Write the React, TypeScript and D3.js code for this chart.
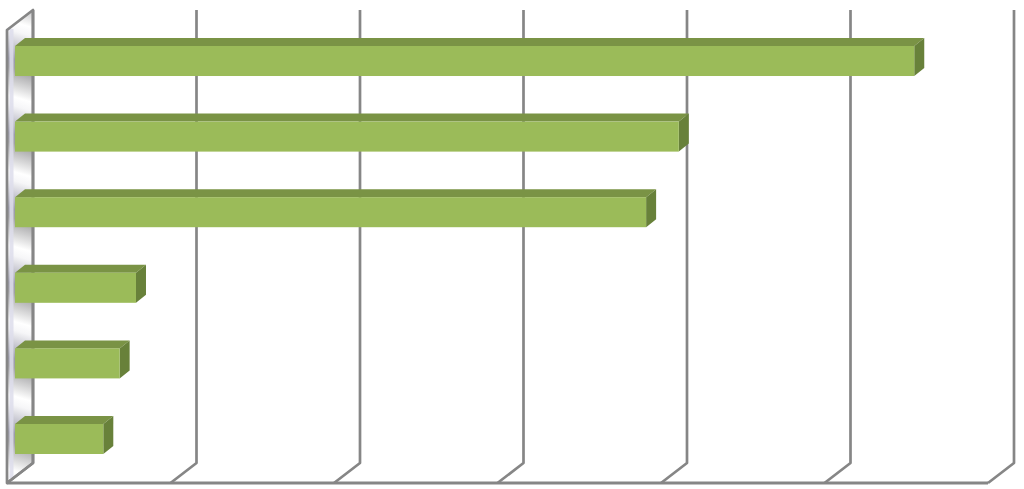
import * as d3 from 'd3';

const WIDTH = 1024;
const HEIGHT = 489;

// The picture has no text, so the categories are only keys and the values are in gridline units
const categories = ['a', 'b', 'c', 'd', 'e', 'f'];
const values = [5.5, 4.06, 3.86, 0.74, 0.64, 0.54];
const ticks = [0, 1, 2, 3, 4, 5, 6];

const wall = { top: 10, bottom: 463 };
const floorDepth = { dx: 26, dy: 20 };
const barDepth = { dx: 10, dy: 8 };

const backX = d3.scaleLinear().domain([0, 6]).range([33, 1014]);
const frontX = d3.scaleLinear().domain([0, 6]).range([33 - floorDepth.dx, 1014 - floorDepth.dx]);
const barX = d3.scaleLinear().domain([0, 6]).range([15, 996]);
const barY = d3.scaleBand<string>().domain(categories).range([46, 454]).paddingInner(0.603).paddingOuter(0);

const GRID = '#868686';

function poly(points: [number, number][]) {
  return d3.line()(points) + 'Z';
}

export default function App() {
  const x0 = backX(0);
  const xf = frontX(0);
  const floorY = wall.bottom + floorDepth.dy;
  const wallPath = poly([
    [xf, wall.top + floorDepth.dy],
    [x0, wall.top],
    [x0, wall.bottom],
    [xf, floorY],
  ]);

  return (
    <svg
      width={WIDTH}
      height={HEIGHT}
      viewBox={`0 0 ${WIDTH} ${HEIGHT}`}
      style={{ position: 'absolute', left: 0, top: 0, display: 'block', background: '#fff' }}
    >
      <defs>
        <linearGradient
          id="wall-stripes"
          gradientUnits="userSpaceOnUse"
          spreadMethod="repeat"
          x1={33}
          y1={74}
          x2={13}
          y2={143}
        >
          <stop offset="0%" stopColor="#a2a2a4" />
          <stop offset="38%" stopColor="#ffffff" />
          <stop offset="50%" stopColor="#f6f6f8" />
          <stop offset="88%" stopColor="#9c9cac" />
          <stop offset="100%" stopColor="#a2a2a4" />
        </linearGradient>
      </defs>

      {/* Left wall */}
      <path d={wallPath} fill="url(#wall-stripes)" />
      <line x1={11.5} x2={11.5} y1={29} y2={478} stroke="#dedeec" strokeWidth={4} opacity={0.85} />
      <path d={wallPath} fill="none" stroke={GRID} strokeWidth={2.7} strokeLinejoin="round" />

      {/* Gridlines on the back wall and their feet on the floor */}
      <g fill="none" stroke={GRID} strokeWidth={2.7} strokeLinejoin="round">
        {ticks.map(t => (
          <path
            key={t}
            d={
              d3.line()([
                [backX(t), wall.top],
                [backX(t), wall.bottom],
                [frontX(t), floorY],
              ]) as string
            }
          />
        ))}
        <line x1={frontX(0)} x2={frontX(6)} y1={floorY} y2={floorY} strokeWidth={3} />
      </g>

      {/* Bars */}
      {categories.map((c, i) => {
        const left = barX(0);
        const right = barX(values[i]);
        const top = barY(c) as number;
        const h = barY.bandwidth();
        return (
          <g key={c}>
            <path
              d={poly([
                [left, top],
                [left + barDepth.dx, top - barDepth.dy],
                [right + barDepth.dx, top - barDepth.dy],
                [right, top],
              ])}
              fill="#7a9345"
            />
            <path
              d={poly([
                [right, top],
                [right + barDepth.dx, top - barDepth.dy],
                [right + barDepth.dx, top - barDepth.dy + h],
                [right, top + h],
              ])}
              fill="#68813a"
            />
            <rect x={left} y={top} width={right - left} height={h} fill="#9bbb59" />
          </g>
        );
      })}
    </svg>
  );
}
